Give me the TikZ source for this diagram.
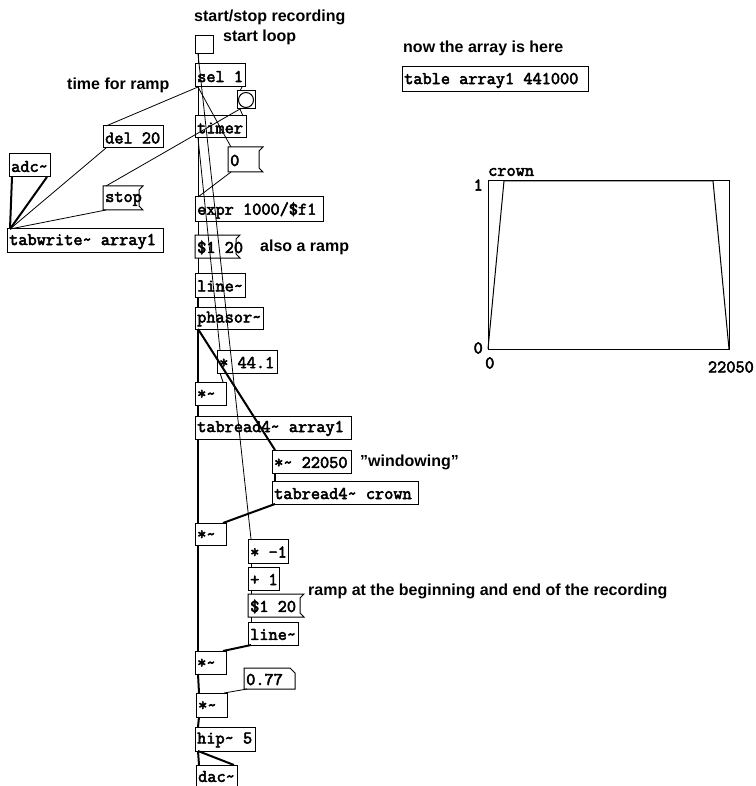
\documentclass[tikz,border=0pt]{standalone}
\usepackage{fontspec}
\setmainfont{Liberation Sans}
\newfontfamily\pdmono{Latin Modern Mono}[FakeBold=3]
\usetikzlibrary{calc}
\newcommand\pdtl{\char"007E\relax}
\tikzset{
 boxs/.style={draw=black, line width=1pt, anchor=north west, inner sep=0pt, outer sep=0pt},
 hidbox/.style={anchor=north west, inner sep=0pt, outer sep=0pt},
 objtext/.style={anchor=west, inner sep=0pt, font=\pdmono\fontsize{17.8}{18}\selectfont},
 cmt/.style={anchor=west, inner sep=0pt, font=\bfseries\fontsize{16}{17}\selectfont},
 ctl/.style={line width=0.8pt},
 sig/.style={line width=2pt},
 frame/.style={line width=1pt},
}
\newcommand\pdobj[6]{\node[boxs, minimum width=#4pt, minimum height=#5pt] (#1) at (#2,#3) {};
 \node[objtext] (#1-t) at ([xshift=2pt,yshift=-1pt]#1.west) {#6};}
\newcommand\pdmsg[6]{\node[hidbox, minimum width=#4pt, minimum height=#5pt] (#1) at (#2,#3) {};
 \draw[frame] (#1.north west) -- ([xshift=4pt]#1.north east) -- ([yshift=-4pt]#1.north east) -- ([yshift=4pt]#1.south east) -- ([xshift=4pt]#1.south east) -- (#1.south west) -- cycle;
 \node[objtext] (#1-t) at ([xshift=2pt,yshift=-1pt]#1.west) {#6};}
\newcommand\pdatom[6]{\node[hidbox, minimum width=#4pt, minimum height=#5pt] (#1) at (#2,#3) {};
 \draw[frame] (#1.north west) -- ([xshift=-5pt]#1.north east) -- ([yshift=-5pt]#1.north east) -- (#1.south east) -- (#1.south west) -- cycle;
 \node[objtext] (#1-t) at ([xshift=2pt,yshift=-1pt]#1.west) {#6};}
\begin{document}
\begin{tikzpicture}[x=1pt,y=-1pt]
\useasboundingbox (0,0) rectangle (755,786);
\clip (0,0) rectangle (755,786);
\fill[white] (0,0) rectangle (755,786);
% comments
\node[cmt] (c1) at (194,17) {start/stop recording};
\node[cmt] (c2) at (223,37) {start loop};
\node[cmt] (c3) at (67,85) {time for ramp};
\node[cmt] (c4) at (260,247) {also a ramp};
\node[cmt] (c5) at (360,462) {\char"0022 windowing\char"0022};
\node[cmt] (c6) at (308,591) {ramp at the beginning and end of the recording};
\node[cmt] (c7) at (403,48) {now the array is here};
% gui
\node[boxs, minimum width=18pt, minimum height=18pt] (tgl) at (195,36) {};
\node[boxs, minimum width=18pt, minimum height=18pt] (bng) at (237,91) {};
\draw[frame] (bng.center) circle (7.5pt);
% objects
\pdobj{sel}{195}{64}{50}{23}{sel 1}
\pdobj{tmr}{195}{116}{51}{22}{timer}
\pdobj{del}{103}{126}{60}{22}{del 20}
\pdmsg{zero}{228}{147}{31}{25}{0}
\pdobj{adc}{9}{154}{41}{23}{adc\pdtl}
\pdmsg{stop}{103}{186}{36}{24}{stop}
\pdobj{tabw}{7}{229}{156}{23}{tabwrite\pdtl{} array1}
\pdobj{expr}{195}{197}{128}{25}{expr 1000/\$f1}
\pdmsg{msga}{195}{235}{41}{23}{\$1 20}
\pdobj{linea}{195}{273}{50}{24}{line\pdtl}
\pdobj{phs}{195}{307}{68}{22}{phasor\pdtl}
\pdobj{m441}{217}{350}{60}{23}{* 44.1}
\pdobj{ms1}{195}{382}{31}{23}{*\pdtl}
\pdobj{trd1}{195}{416}{156}{23}{tabread4\pdtl{} array1}
\pdobj{mwin}{272}{450}{79}{23}{*\pdtl{} 22050}
\pdobj{trdc}{272}{481}{146}{23}{tabread4\pdtl{} crown}
\pdobj{ms2}{195}{523}{31}{22}{*\pdtl}
\pdobj{mulm}{248}{539}{40}{24}{* -1}
\pdobj{plus}{248}{567}{31}{23}{+ 1}
\pdmsg{msgb}{248}{594}{52}{23}{\$1 20}
\pdobj{lineb}{248}{622}{50}{23}{line\pdtl}
\pdobj{ms3}{195}{651}{31}{23}{*\pdtl}
\pdatom{atom}{244}{668}{51}{21}{0.77}
\pdobj{ms4}{196}{693}{31}{24}{*\pdtl}
\pdobj{hip}{195}{727}{60}{24}{hip\pdtl{} 5}
\pdobj{dac}{196}{765}{41}{21}{dac\pdtl}
\pdobj{tbl}{402}{67}{186}{25}{table array1 441000}
% graph
\node[boxs, minimum width=241pt, minimum height=168pt] (graph) at (488,181) {};
\draw[frame] (graph.south west) -- ([xshift=16pt]graph.north west) -- ([xshift=-16pt]graph.north east) -- (graph.south east);
\node[objtext] (gname) at (488,172) {crown};
\node[objtext, anchor=east] (gy1) at (483,185) {1};
\node[objtext, anchor=east] (gy0) at (483,348) {0};
\node[objtext] (gx0) at (485,363) {0};
\node[objtext, anchor=east] (gx1) at (754,367) {22050};
% control connections
\draw[ctl] ([xshift=3pt]tgl.south west) -- ([xshift=3pt]sel.north west);
\draw[ctl] ([xshift=3pt]tgl.south west) -- ([xshift=3pt]mulm.north west);
\draw[ctl] ([xshift=3pt]sel.south west) -- ([xshift=3pt]tmr.north west);
\draw[ctl] ([xshift=3pt]sel.south west) -- ([xshift=3pt]del.north west);
\draw[ctl] ([xshift=3pt]sel.south west) -- ([xshift=3pt]zero.north west);
\draw[ctl] ([xshift=-3pt]sel.south east) -- ([xshift=3pt]bng.north west);
\draw[ctl] ([xshift=3pt]bng.south west) -- ([xshift=-3pt]tmr.north east);
\draw[ctl] ([xshift=3pt]bng.south west) -- ([xshift=3pt]stop.north west);
\draw[ctl] ([xshift=3pt]tmr.south west) -- ([xshift=3pt]expr.north west);
\draw[ctl] ([xshift=3pt]tmr.south west) -- ([xshift=3pt]m441.north west);
\draw[ctl] ([xshift=3pt]zero.south west) -- ([xshift=3pt]expr.north west);
\draw[ctl] ([xshift=3pt]del.south west) -- ([xshift=3pt]tabw.north west);
\draw[ctl] ([xshift=3pt]stop.south west) -- ([xshift=3pt]tabw.north west);
\draw[ctl] ([xshift=3pt]expr.south west) -- ([xshift=3pt]msga.north west);
\draw[ctl] ([xshift=3pt]msga.south west) -- ([xshift=3pt]linea.north west);
\draw[ctl] ([xshift=3pt]m441.south west) -- ([xshift=-3pt]ms1.north east);
\draw[ctl] ([xshift=3pt]mulm.south west) -- ([xshift=3pt]plus.north west);
\draw[ctl] ([xshift=3pt]plus.south west) -- ([xshift=3pt]msgb.north west);
\draw[ctl] ([xshift=3pt]msgb.south west) -- ([xshift=3pt]lineb.north west);
\draw[ctl] ([xshift=3pt]atom.south west) -- ([xshift=-3pt]ms4.north east);
% signal connections
\draw[sig] ([xshift=3pt]adc.south west) -- ([xshift=3pt]tabw.north west);
\draw[sig] ([xshift=-3pt]adc.south east) -- ([xshift=3pt]tabw.north west);
\draw[sig] ([xshift=3pt]linea.south west) -- ([xshift=3pt]phs.north west);
\draw[sig] ([xshift=3pt]phs.south west) -- ([xshift=3pt]ms1.north west);
\draw[sig] ([xshift=3pt]phs.south west) -- ([xshift=3pt]mwin.north west);
\draw[sig] ([xshift=3pt]ms1.south west) -- ([xshift=3pt]trd1.north west);
\draw[sig] ([xshift=3pt]trd1.south west) -- ([xshift=3pt]ms2.north west);
\draw[sig] ([xshift=3pt]mwin.south west) -- ([xshift=3pt]trdc.north west);
\draw[sig] ([xshift=3pt]trdc.south west) -- ([xshift=-3pt]ms2.north east);
\draw[sig] ([xshift=3pt]ms2.south west) -- ([xshift=3pt]ms3.north west);
\draw[sig] ([xshift=3pt]lineb.south west) -- ([xshift=-3pt]ms3.north east);
\draw[sig] ([xshift=3pt]ms3.south west) -- ([xshift=3pt]ms4.north west);
\draw[sig] ([xshift=3pt]ms4.south west) -- ([xshift=3pt]hip.north west);
\draw[sig] ([xshift=3pt]hip.south west) -- ([xshift=3pt]dac.north west);
\draw[sig] ([xshift=3pt]hip.south west) -- ([xshift=-3pt]dac.north east);
\end{tikzpicture}
\end{document}
